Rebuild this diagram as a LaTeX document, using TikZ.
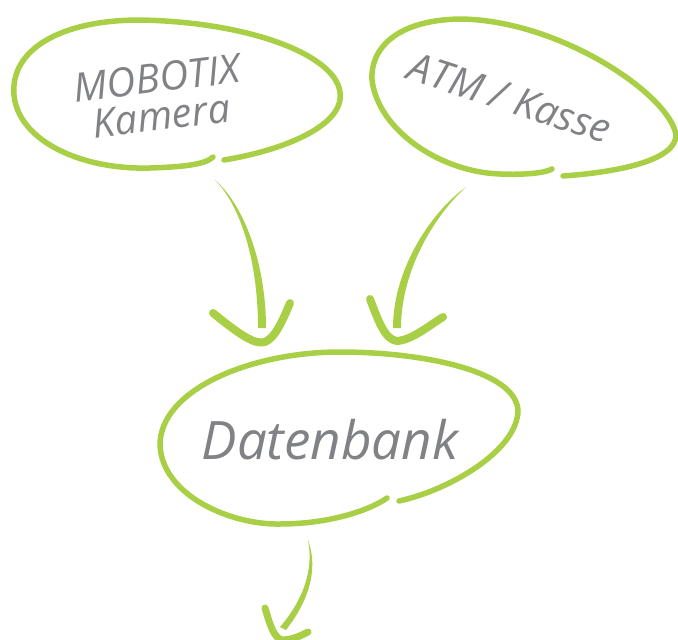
\documentclass[tikz,border=0pt]{standalone}
\usepackage{fontspec}
\setmainfont{Open Sans}
\usetikzlibrary{calc}
\definecolor{lime}{RGB}{168,207,69}
\definecolor{ink}{RGB}{128,130,133}

\begin{document}
\begin{tikzpicture}[
  blob/.style={draw=lime, line width=5.5pt, line cap=round, line join=round},
  shaft/.style={fill=lime, draw=none},
  head/.style={draw=lime, line width=8pt, line cap=round, line join=round},
  hand/.style={text=ink, font=\itshape\fontsize{40}{38}\selectfont, inner sep=0pt, align=center}]
\begin{scope}[x=1pt,y=-1pt]
  \useasboundingbox (0,0) rectangle (678,640);
  \clip (0,0) rectangle (678,640);
  % labels
  \node[hand, rotate=7] (kamera) at (159,97) {MOBOTIX\\Kamera};
  \node[hand, rotate=-18] (atm) at (510,98) {ATM / Kasse};
  \node[hand, font=\itshape\fontsize{53}{53}\selectfont] (db) at (330,440) {Datenbank};
  % blobs
  \draw[blob] (224,160) .. controls (285,150) and (345,125) .. (340,92)
    .. controls (335,55) and (250,22) .. (140,20)
    .. controls (60,20) and (10,50) .. (14,95)
    .. controls (18,140) and (80,170) .. (150,168)
    .. controls (180,167) and (205,165) .. (213,157);
  \draw[blob] (563,176) .. controls (620,172) and (676,160) .. (676,135)
    .. controls (670,95) and (560,20) .. (460,19)
    .. controls (395,20) and (370,50) .. (372,80)
    .. controls (378,130) and (440,172) .. (500,174)
    .. controls (525,175) and (545,173) .. (552,169);
  \draw[blob] (399,501) .. controls (450,490) and (518,450) .. (518,410)
    .. controls (515,370) and (420,352) .. (340,352)
    .. controls (250,352) and (160,390) .. (160,445)
    .. controls (162,495) and (230,525) .. (280,524)
    .. controls (330,524) and (370,510) .. (387,498);
  % connectors
  \coordinate (kam-out) at (215,180);
  \coordinate (db-in1) at (262,328);
  \coordinate (atm-out) at (466,187);
  \coordinate (db-in2) at (397,328);
  \coordinate (db-out) at (308,540);
  \coordinate (next-in) at (283,628);
  \fill[shaft] (kam-out) .. controls (240,205) and (258,260) .. ($(db-in1)+(-4,0)$)
    -- ($(db-in1)+(4,0)$) .. controls (266,260) and (242,203) .. (kam-out);
  \draw[head] (213,313) .. controls (240,335) and (255,345) .. (265,342)
    .. controls (275,338) and (283,320) .. (290,303);
  \fill[shaft] (atm-out) .. controls (430,213) and (393,270) .. ($(db-in2)+(-4,0)$)
    -- ($(db-in2)+(4,0)$) .. controls (401,272) and (433,217) .. (atm-out);
  \draw[head] (370,299) .. controls (378,320) and (385,340) .. (397,341)
    .. controls (412,340) and (430,325) .. (443,317);
  \fill[shaft] (db-out) .. controls (314,570) and (303,600) .. ($(next-in)+(-3,-1)$)
    -- ($(next-in)+(3,2)$) .. controls (308,602) and (319,570) .. (db-out);
  \draw[head, line width=7pt] (265,608) .. controls (270,625) and (274,638) .. (282,640)
    .. controls (292,640) and (300,636) .. (308,632);
\end{scope}
\end{tikzpicture}
\end{document}
